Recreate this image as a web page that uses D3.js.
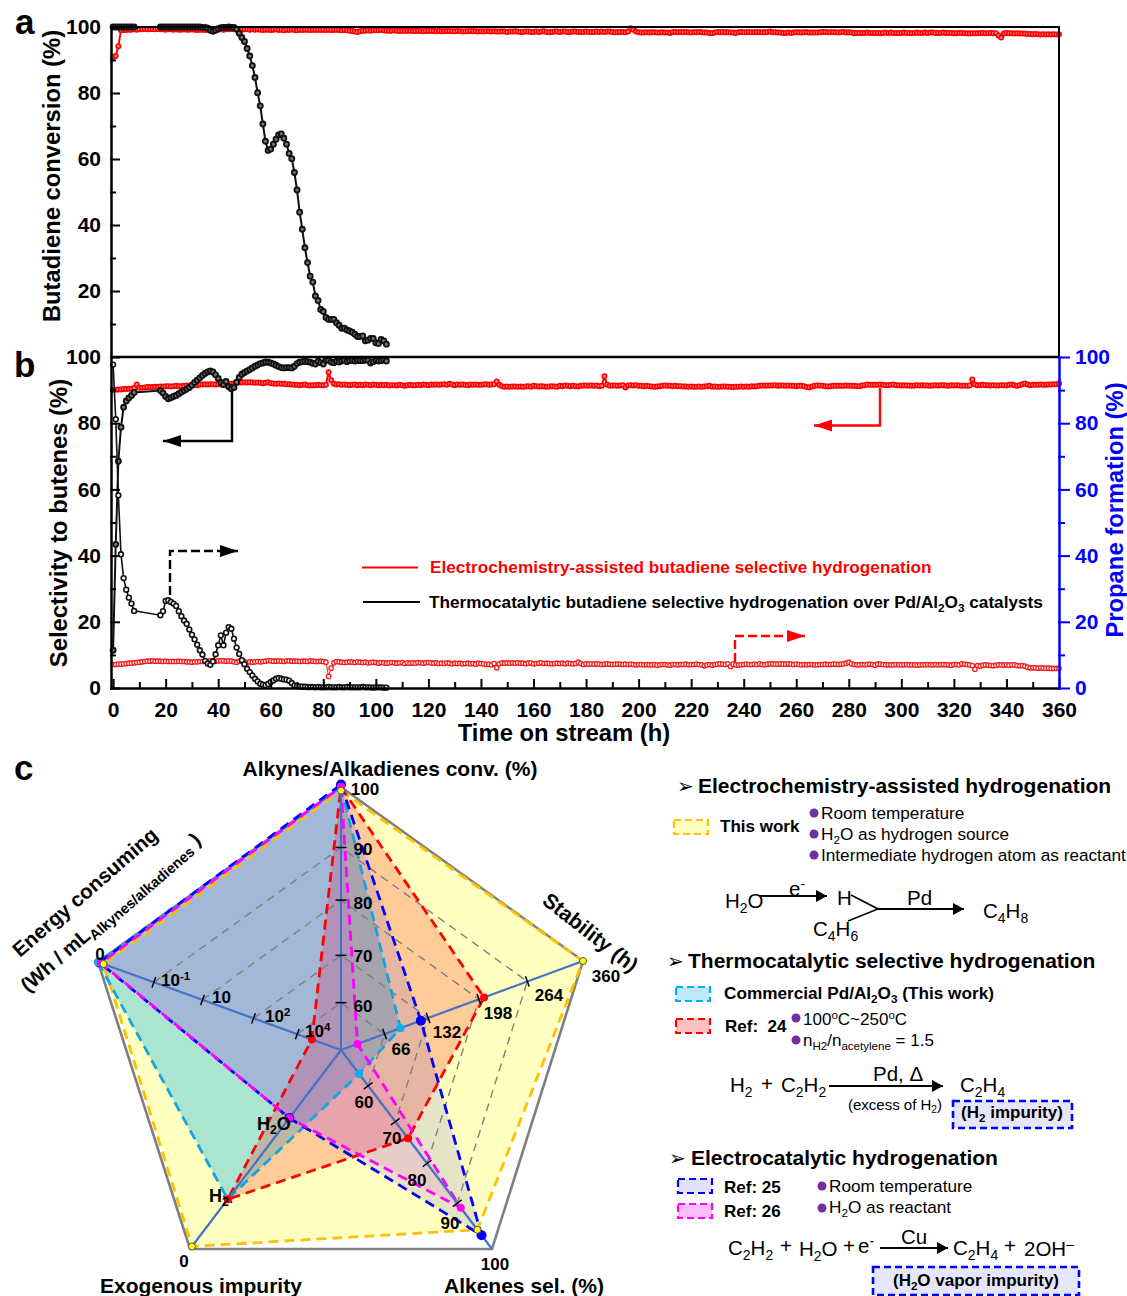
<!DOCTYPE html>
<html>
<head>
<meta charset="utf-8">
<title>Butadiene selective hydrogenation</title>
<script src="https://d3js.org/d3.v7.min.js"></script>
<style>
  html,body{margin:0;padding:0;background:#fff;}
  text{font-family:"Liberation Sans",Arial,sans-serif;fill:#000;}
</style>
</head>
<body>
<div id="chart"></div>
<script>
// hourly red series, index = hours on stream (0..360)
var redConversion=[
91.0,91.2,94.2,99.0,99.1,99.1,99.2,99.2,99.3,99.2,99.3,99.3,99.4,99.3,99.3,99.4,99.3,99.4,99.3,99.3,
99.2,99.3,99.3,99.2,99.3,99.2,99.2,99.3,99.2,99.2,99.3,99.2,99.1,99.2,99.2,99.1,99.2,99.2,99.1,99.2,
99.2,99.3,99.2,99.3,99.3,99.4,99.3,99.4,99.3,99.2,99.3,99.3,99.2,99.3,99.2,99.3,99.2,99.1,99.2,99.2,
99.1,99.2,99.3,99.1,99.2,99.0,99.2,99.1,99.3,99.1,99.0,99.2,99.1,99.2,99.2,99.1,99.2,99.1,99.2,99.1,
99.2,99.1,99.2,99.1,99.1,99.2,99.1,99.0,99.1,99.0,98.9,98.8,98.6,98.5,98.7,98.9,98.9,99.0,98.9,99.0,
99.0,99.0,99.1,99.0,98.9,98.9,98.9,99.0,98.9,98.8,98.9,98.9,98.8,98.9,98.8,98.8,98.9,98.8,98.7,98.8,
98.8,98.9,98.8,98.7,98.8,98.7,98.7,98.8,98.8,98.7,98.7,98.8,98.7,98.6,98.7,98.7,98.8,98.7,98.7,98.6,
98.7,98.6,98.7,98.7,98.6,98.7,98.6,98.6,98.7,98.6,98.5,98.6,98.6,98.7,98.6,98.5,98.5,98.6,98.6,98.5,
98.5,98.6,98.5,98.6,98.7,98.5,98.4,98.5,98.6,98.6,98.5,98.6,98.6,98.5,98.5,98.6,98.6,98.5,98.5,98.5,
98.6,98.5,98.5,98.5,98.6,98.5,98.6,98.5,98.6,98.6,98.5,98.4,98.4,98.5,98.5,98.4,98.6,99.6,99.2,98.6,
98.4,98.3,98.3,98.4,98.3,98.4,98.4,98.3,98.3,98.4,98.3,98.3,98.2,98.5,98.5,98.4,98.5,98.4,98.5,98.4,
98.3,98.4,98.4,98.5,98.4,98.3,98.3,98.2,98.2,98.3,98.5,98.4,98.5,98.4,98.4,98.3,98.3,98.2,98.4,98.5,
98.4,98.4,98.5,98.4,98.4,98.5,98.4,98.4,98.4,98.5,98.6,98.4,98.4,98.3,98.3,98.2,98.2,98.3,98.2,98.3,
98.4,98.4,98.3,98.4,98.4,98.3,98.3,98.3,98.3,98.4,98.5,98.5,98.4,98.4,98.4,98.4,98.3,98.4,98.5,98.3,
98.4,98.3,98.1,98.2,98.2,98.2,98.2,98.3,98.2,98.2,98.2,98.2,98.1,98.2,98.3,98.2,98.3,98.2,98.2,98.2,
98.2,98.3,98.2,98.2,98.2,98.2,98.3,98.2,98.2,98.3,98.2,98.3,98.3,98.2,98.2,98.2,98.3,98.2,98.2,98.2,
98.1,98.1,98.2,98.2,98.1,98.1,98.0,98.1,98.1,98.1,98.1,98.2,98.1,98.1,98.2,98.1,98.1,97.4,96.8,98.0,
98.2,98.1,98.1,98.0,98.1,98.0,98.0,98.0,97.9,97.9,97.8,97.9,97.8,97.7,97.8,97.7,97.8,97.7,97.8,97.7,97.8];

var redSelectivity=[
90.0,90.1,90.2,90.2,90.3,90.3,90.4,90.4,90.6,91.7,90.7,90.7,90.8,90.9,90.9,90.9,91.0,91.0,91.1,91.0,
91.2,91.2,91.1,91.2,91.3,91.2,91.2,91.3,91.4,91.3,91.5,91.6,91.5,91.7,91.7,91.8,91.7,91.8,91.8,91.7,
91.8,91.7,91.6,91.7,91.8,91.9,92.0,92.2,92.3,92.3,92.4,92.3,92.4,92.3,92.2,92.3,92.2,92.1,92.2,92.4,
92.1,92.0,91.9,92.0,91.9,91.9,91.8,91.8,91.7,91.6,91.6,91.5,91.6,91.7,91.5,91.4,91.5,91.5,91.6,91.5,
91.5,91.6,95.4,93.0,91.9,91.7,91.8,91.6,91.7,91.6,91.5,91.6,91.7,91.5,91.6,91.5,91.7,91.6,91.5,91.7,
91.6,91.5,91.6,91.5,91.6,91.4,91.5,91.5,91.4,91.6,91.5,91.3,91.5,91.6,91.5,91.5,91.6,91.5,91.7,91.6,
91.5,91.7,91.6,91.7,91.6,91.7,91.8,91.6,91.9,91.7,91.5,91.7,91.6,91.7,91.6,91.5,91.7,91.6,91.7,91.6,
91.6,91.7,91.8,91.6,91.7,91.8,92.6,91.6,91.2,91.0,91.1,91.0,91.1,91.1,91.0,91.1,91.0,91.1,91.2,91.0,
91.3,91.2,91.1,91.2,91.1,91.0,91.1,91.2,91.1,91.0,91.3,91.2,91.4,91.3,91.2,91.3,91.2,91.1,91.3,91.4,
91.4,91.3,91.4,91.3,91.4,91.2,91.3,94.2,91.7,91.3,91.4,91.4,91.3,91.4,91.5,90.8,91.4,91.5,91.4,91.5,
91.3,91.3,91.2,91.3,91.2,91.1,91.0,91.1,91.2,91.3,91.4,91.3,91.3,91.2,91.3,91.2,91.2,91.1,91.1,91.0,
91.1,91.0,91.0,91.1,91.0,91.1,91.2,91.3,91.0,91.1,91.0,91.0,91.1,91.1,91.0,91.0,90.9,91.0,91.0,91.1,
91.0,91.1,91.0,91.2,91.1,91.2,91.3,91.4,91.3,91.4,91.4,91.4,91.5,91.3,91.4,91.4,91.3,91.4,91.3,91.3,
91.2,91.3,91.3,91.2,90.9,90.8,91.1,91.3,91.4,91.4,91.3,91.2,91.1,91.2,91.3,91.3,91.3,91.3,91.3,91.4,
91.3,91.3,91.3,91.2,91.2,91.4,91.5,91.7,91.6,91.6,91.6,91.6,91.7,91.6,91.5,91.5,91.6,91.7,91.5,91.5,
91.4,91.5,91.4,91.4,91.3,91.4,91.5,91.4,91.5,91.4,91.4,91.3,91.4,91.5,91.4,91.5,91.5,91.4,91.3,91.5,
91.4,91.5,91.4,91.3,91.4,91.3,91.4,93.2,91.7,91.5,91.5,91.6,91.5,91.5,91.4,91.5,91.4,91.4,91.5,91.5,
91.4,91.6,91.7,91.5,91.3,91.5,91.8,92.0,91.7,91.5,91.6,91.6,91.6,91.7,91.6,91.6,91.7,91.7,91.8,91.8,92.0];

var redPropane=[
7.1,7.1,7.2,7.2,7.3,7.4,7.5,7.5,7.6,7.7,7.8,7.9,8.0,8.1,8.1,8.2,8.1,8.1,8.1,8.0,
8.1,8.0,8.0,8.0,8.0,8.1,8.0,8.0,7.9,7.9,7.8,7.9,7.9,8.0,8.0,8.1,8.1,8.2,8.2,8.1,
8.2,8.2,8.2,8.1,8.2,8.1,7.9,7.8,8.1,8.2,8.0,7.7,7.9,7.8,7.9,8.0,7.9,8.0,8.1,8.3,
8.2,8.1,8.1,8.2,8.1,8.0,8.2,8.2,8.1,8.1,8.1,8.0,8.1,8.1,8.0,8.2,8.1,8.0,8.0,8.1,
8.0,7.8,3.5,6.0,7.6,8.0,7.9,7.8,7.7,7.8,7.9,7.8,7.7,7.9,7.8,7.7,7.8,7.6,7.7,7.8,
7.7,7.5,7.7,7.6,7.5,7.6,7.7,7.6,7.5,7.6,7.7,7.4,7.6,7.5,7.6,7.5,7.7,7.6,7.5,7.6,
7.7,7.6,7.5,7.6,7.4,7.5,7.4,7.6,7.5,7.3,7.5,7.4,7.5,7.3,7.4,7.5,7.3,7.4,7.2,7.5,
7.4,7.3,7.1,7.2,7.0,7.4,6.1,7.3,7.6,7.5,7.6,7.5,7.6,7.5,7.6,7.5,7.5,7.3,7.5,7.6,
7.3,7.4,7.5,7.6,7.4,7.5,7.4,7.3,7.4,7.5,7.4,7.5,7.3,7.5,7.4,7.3,7.4,7.8,7.4,7.1,
7.3,7.2,7.3,7.2,7.3,7.2,7.1,7.2,7.3,7.2,7.1,7.2,7.2,7.2,7.1,7.2,7.1,7.2,7.1,7.0,
7.1,7.1,7.0,7.1,7.0,7.0,7.1,6.9,7.0,7.1,7.1,7.0,6.9,7.1,7.1,7.0,7.1,7.1,7.2,7.0,
7.1,7.1,7.2,7.1,7.0,6.7,7.0,7.1,6.9,7.1,7.2,7.3,7.2,7.1,7.3,6.5,7.2,7.0,6.9,7.0,
7.1,7.2,7.1,7.1,7.2,7.1,7.3,7.1,7.0,7.2,7.3,7.3,7.2,7.2,7.3,7.2,7.2,7.3,7.2,7.1,
7.2,7.1,7.0,7.1,7.0,7.1,7.1,7.0,7.0,7.1,7.1,7.2,7.1,7.1,7.2,7.2,7.1,7.2,7.3,7.5,
7.8,7.3,7.1,7.0,7.0,7.1,7.0,7.1,7.2,7.1,6.9,7.2,7.2,7.1,7.0,7.0,7.0,7.0,7.1,7.0,
7.0,7.0,7.1,7.0,7.0,7.0,6.9,7.0,7.0,7.0,7.1,7.0,7.0,7.1,7.0,7.0,7.1,7.0,7.0,6.9,
7.1,7.1,7.0,7.3,7.2,7.1,7.0,6.8,5.7,6.8,6.6,6.9,7.0,6.9,6.8,6.7,6.9,7.0,7.0,6.9,
7.0,6.9,7.0,7.0,6.8,6.7,6.8,6.6,6.3,6.1,6.1,6.1,6.0,6.1,6.0,6.0,6.0,5.9,5.9,5.9,5.9];

// black series: no samples between 8 h and 18 h
var blackHours=[0,1,2,3,4,5,6,7,8,
18,19,20,21,22,23,24,25,26,27,28,29,30,31,32,33,34,35,36,37,38,39,40,41,42,43,44,45,46,47,
48,49,50,51,52,53,54,55,56,57,58,59,60,61,62,63,64,65,66,67,68,69,70,71,72,73,74,75,76,
77,78,79,80,81,82,83,84,85,86,87,88,89,90,91,92,93,94,95,96,97,98,99,100,101,102,103,104];
var blackConversion=[100,100,100,100,100,100,100,100,100,
100,100,100,100,100,100,100,100,100,100,100,100,100,100,100,100,
99.9,99.9,99.6,99.0,98.7,99.0,99.5,99.8,99.9,99.9,100,99.9,99.9,99.3,
98.1,96.8,95.6,93.5,91.2,88.3,84.7,80.1,76.1,70.6,65.4,62.6,63,64.5,66,67.3,67.6,66.3,64.5,61.7,60.1,55.9,50.6,43.9,38.7,33.1,28.6,24.5,22.7,18.5,
17.1,14.4,13.8,12,11.4,11.4,11.4,10.4,9.6,8.7,8.7,8.2,7.9,7.5,6.9,6.2,6.2,6.4,4.9,5.1,5.6,5.6,4.3,4.1,5.3,4.9,3.9];
var blackSelectivity=[11.4,43.4,68.5,78.8,84.8,86.7,87.6,88.4,89.3,
89.9,89.1,88.1,87.4,87.7,88.1,88.4,88.9,89.4,89.9,90.3,90.8,91.5,92.3,93,93.7,94.4,95,95.5,95.8,95.5,94.6,93.5,92.3,91.7,92.6,91,90.4,90.8,92.4,
93.8,94.8,95.3,95.8,96.2,96.7,97.2,97.6,98,98.2,98.5,98.4,98.2,97.9,97.5,97.1,96.8,96.7,96.8,96.8,96.7,97.2,98,98.4,98.6,98.7,98.6,98.4,98.1,
97.9,98.7,98.3,97.9,99,99,98.5,98.3,98.7,98.5,98.8,98.9,98.6,98.9,99,98.8,99,98.9,98.9,99.1,99,98.2,98.6,99,98.8,98.9,99.1,98.8];
var blackPropane=[97.7,81.2,58.2,40.4,33.2,29.7,27.3,25.5,23.3,
22,23.2,26.3,26.5,26,25.5,24.8,23.2,21.7,20.4,19.4,17.7,16.1,14.7,13.1,11.4,10.1,8.2,7.4,7,8,10.2,12.9,15.9,12.9,16.7,18.4,17.9,14.9,12.2,
10.3,8.4,7.2,5.8,4.8,3.8,2.8,2,1.3,1,0.8,1.2,1.8,2.3,2.8,3,2.8,2.6,2.5,2.2,1.5,0.8,0.6,0.5,0.4,0.4,0.3,0.3,0.3,
0.2,0.3,0.2,0.2,0.2,0.3,0.2,0.2,0.2,0.3,0.2,0.2,0.3,0.2,0.2,0.2,0.2,0.2,0.3,0.2,0.2,0.2,0.1,0.2,0.2,0.2,0.1,0.1];

// radar axes, tick labels and their share of the spoke length
var levelShare=[0.18,0.36,0.57,0.77];
var convTicks=[60,70,80,90];
var stabilityTicks=[66,132,198,264];
var selTicks=[60,70,80,90];
var energyTicks=[4,2,1,-1];   // log10 of Wh/mL
var impurityLevels=["H2O","H2","none"];

// radar series
var seriesNames=["This work","Pd/Al2O3","Ref 24","Ref 25","Ref 26"];
var seriesConv=[99.4,100,100,100.4,100];
var seriesStability=[360,90,205,121,25];
var seriesSel=[95.8,57,74,97,91];
var seriesImpurity=["none","H2","H2","H2O","H2O"];
var seriesEnergy=[-2.8,-3,4.5,-2.95,-2.9];
var seriesColor=["#FFC000","#00B0F0","#FF0000","#0000FF","#FF00FF"];
var seriesAlpha=[0.25,0.33,0.2,0.1,0.1];
var dotColor=["#FFFF00","#00B0F0","#FF0000","#0000FF","#FF00FF"];

var width=1127,height=1296;
var svg=d3.select("#chart").append("svg").attr("width",width).attr("height",height).style("display","block");

var defs=svg.append("defs");
[["arrBlack","#000"],["arrRed","#FF0000"]].forEach(function(m){
  defs.append("marker").attr("id",m[0]).attr("markerUnits","userSpaceOnUse")
    .attr("viewBox","0 0 18 12").attr("refX",18).attr("refY",6)
    .attr("markerWidth",18).attr("markerHeight",12).attr("orient","auto")
    .append("path").attr("d","M0,0L18,6L0,12Z").attr("fill",m[1]);
});

// text with _sub_ and ^sup^ pieces
function rich(g,str,x,y,size,opt){
  opt=opt||{};
  var t=g.append("text").attr("x",x).attr("y",y).style("font-size",size+"px")
    .style("font-weight",opt.bold?"bold":"normal").attr("text-anchor",opt.anchor||"start");
  if(opt.color) t.style("fill",opt.color);
  if(opt.rotate!==undefined) t.attr("transform","rotate("+opt.rotate+" "+x+" "+y+")");
  var parts=str.split(/(_[^_]*_|\^[^\^]*\^)/),shift=0;
  parts.forEach(function(p){
    if(!p) return;
    var kind=p[0],small=size*0.68,dy=0,txt=p,fs=size;
    if(kind==="_"&&p.length>2){dy=size*0.22;txt=p.slice(1,-1);fs=opt.subSize||small;}
    else if(kind==="^"&&p.length>2){dy=-size*0.36;txt=p.slice(1,-1);fs=small;}
    var ts=t.append("tspan").text(txt).style("font-size",fs+"px");
    if(dy-shift!==0) ts.attr("dy",dy-shift);
    shift=dy;
  });
  return t;
}

// ---- panels a and b
var x=d3.scaleLinear().domain([-0.8,360]).range([111,1059]);
var yA=d3.scaleLinear().domain([0,100]).range([357,27]);
var yB=d3.scaleLinear().domain([0,100]).range([688,357]);

function drawSeries(g,xs,ys,yScale,stroke,fill,r,lineW,sw){
  var pts=ys.map(function(v,i){return [x(xs[i]),yScale(v)];});
  g.append("path").attr("d",d3.line()(pts)).attr("fill","none").attr("stroke",stroke).attr("stroke-width",lineW);
  g.append("g").selectAll("circle").data(pts).enter().append("circle")
    .attr("cx",function(d){return d[0]}).attr("cy",function(d){return d[1]})
    .attr("r",r).attr("fill",fill).attr("stroke",stroke).attr("stroke-width",sw);
}
var redHours=d3.range(0,361);
var plots=svg.append("g");
drawSeries(plots,redHours,redConversion,yA,"#FF0000","#FF8A8A",2.2,2,1.6);
drawSeries(plots,redHours,redSelectivity,yB,"#FF0000","#FF8A8A",2.2,2,1.6);
drawSeries(plots,redHours,redPropane,yB,"#F51C1C","#fff",2.2,1,1.3);
drawSeries(plots,blackHours,blackConversion,yA,"#111","#777",2.5,2,1.9);
drawSeries(plots,blackHours,blackSelectivity,yB,"#111","#777",2.5,2,1.9);
drawSeries(plots,blackHours,blackPropane,yB,"#111","#fff",2.4,1.6,1.6);

function styleAxis(g,color){
  g.selectAll("path,line").attr("stroke",color).attr("stroke-width",2).attr("stroke-linecap","square");
  g.selectAll("text").style("font-size","21px").style("font-weight","bold").style("fill",color)
   .style("font-family","'Liberation Sans',Arial,sans-serif");
}
function ticksLeft(scale,tr,labels){
  var gMin=svg.append("g").attr("transform",tr).call(d3.axisLeft(scale).tickValues(d3.range(10,100,20)).tickSize(-4).tickSizeOuter(0).tickFormat(""));
  styleAxis(gMin,"#000");
  var gMaj=svg.append("g").attr("transform",tr).call(d3.axisLeft(scale).tickValues(labels).tickSize(-8).tickSizeOuter(0).tickPadding(10));
  styleAxis(gMaj,"#000");
}
ticksLeft(yA,"translate(111,0)",[20,40,60,80,100]);
ticksLeft(yB,"translate(111,0)",[0,20,40,60,80,100]);

// bottom x axis
var gxMin=svg.append("g").attr("transform","translate(0,688)").call(d3.axisBottom(x).tickValues(d3.range(10,360,20)).tickSize(-5).tickSizeOuter(0).tickFormat(""));
styleAxis(gxMin,"#000");
var gxMaj=svg.append("g").attr("transform","translate(0,688)").call(d3.axisBottom(x).tickValues(d3.range(0,361,20)).tickSize(-8).tickSizeOuter(0).tickPadding(14));
styleAxis(gxMaj,"#000");
gxMaj.selectAll("text").attr("y",14);

// frame lines of panel a and shared divider
svg.append("path").attr("d","M111,27H1059V357").attr("fill","none").attr("stroke","#000").attr("stroke-width",2);
svg.append("line").attr("x1",111).attr("x2",1059).attr("y1",357).attr("y2",357).attr("stroke","#000").attr("stroke-width",2.5);

// right blue axis
var gMinR=svg.append("g").attr("transform","translate(1059,0)").call(d3.axisRight(yB).tickValues(d3.range(10,100,20)).tickSize(5).tickSizeOuter(0).tickFormat(""));
styleAxis(gMinR,"#0000FF");
var gMajR=svg.append("g").attr("transform","translate(1059,0)").call(d3.axisRight(yB).tickValues(d3.range(0,101,20)).tickSize(10).tickSizeOuter(0).tickPadding(6));
styleAxis(gMajR,"#0000FF");

// axis titles
rich(svg,"Butadiene conversion (%)",60,176,23.8,{bold:true,anchor:"middle",rotate:-90});
rich(svg,"Selectivity to butenes (%)",67,523,23.8,{bold:true,anchor:"middle",rotate:-90});
rich(svg,"Propane formation (%)",1123,510,23.8,{bold:true,anchor:"middle",rotate:-90,color:"#0000FF"});
rich(svg,"Time on stream (h)",564,741,23.8,{bold:true,anchor:"middle"});
rich(svg,"a",15,34,35,{bold:true});
rich(svg,"b",14,377,35,{bold:true});
rich(svg,"c",14,780,35,{bold:true});

// direction arrows in panel b
function arrow(pathD,color,marker,dash){
  var p=svg.append("path").attr("d",pathD).attr("fill","none").attr("stroke",color).attr("stroke-width",2.4).attr("marker-end","url(#"+marker+")");
  if(dash) p.attr("stroke-dasharray",dash);
}
arrow("M232,392V441H163","#000","arrBlack");
arrow("M170,595V551H238","#000","arrBlack","9,4");
arrow("M880,388V425.5H814","#FF0000","arrRed");
arrow("M735,662V636H805","#FF0000","arrRed","9,4");

// legend of panels a and b
svg.append("line").attr("x1",362).attr("x2",418).attr("y1",567.5).attr("y2",567.5).attr("stroke","#FF0000").attr("stroke-width",2.2);
svg.append("line").attr("x1",363).attr("x2",420).attr("y1",602).attr("y2",602).attr("stroke","#000").attr("stroke-width",2.2);
rich(svg,"Electrochemistry-assisted butadiene selective hydrogenation",430,573,17.2,{bold:true,color:"#FF0000"});
rich(svg,"Thermocatalytic butadiene selective hydrogenation over Pd/Al_2_O_3_ catalysts",429,608,17.2,{bold:true});

// ---- panel c radar
var hub=[341,1050];
// spoke ends measured from the hub: conv, stability, sel, impurity, energy
var spokeEnds=[[0,-263],[242,-89],[151,199],[-151,199],[-243,-88]];
var shareConv=d3.scaleLinear().domain([51,60,70,80,90,100]).range([0,levelShare[0],levelShare[1],levelShare[2],levelShare[3],1]);
var shareStab=d3.scaleLinear().domain([0,66,132,198,264,360]).range([0,levelShare[0],levelShare[1],levelShare[2],levelShare[3],1]);
var shareEnergy=d3.scaleLinear().domain([5.5,4,2,1,-1,-3]).range([0,levelShare[0],levelShare[1],levelShare[2],levelShare[3],1]);
var shareImpurity=d3.scaleOrdinal().domain(impurityLevels).range([0.342,0.75,0.987]);

function radial(axis,share){
  return [hub[0]+spokeEnds[axis][0]*share,hub[1]+spokeEnds[axis][1]*share];
}
var seriesPts=seriesNames.map(function(n,i){
  return [radial(0,shareConv(seriesConv[i])),radial(1,shareStab(seriesStability[i])),radial(2,shareConv(seriesSel[i])),
          radial(3,shareImpurity(seriesImpurity[i])),radial(4,shareEnergy(seriesEnergy[i]))];
});
var radar=svg.append("g");
var lineClosed=d3.line().curve(d3.curveLinearClosed);

// outer frame
radar.append("path").attr("d",lineClosed(d3.range(5).map(function(a){return radial(a,1)})))
  .attr("fill","none").attr("stroke","#7f7f7f").attr("stroke-width",2.6);
// fills
seriesNames.forEach(function(n,i){
  radar.append("path").attr("d",lineClosed(seriesPts[i])).attr("fill",seriesColor[i]==="#FFC000"?"#FFFF00":seriesColor[i]).attr("fill-opacity",seriesAlpha[i]);
});
// inner dashed levels: only between energy, conv, stability and sel spokes
levelShare.forEach(function(s){
  radar.append("path").attr("d",d3.line()([radial(4,s),radial(0,s),radial(1,s),radial(2,s)]))
    .attr("fill","none").attr("stroke","#7f7f7f").attr("stroke-width",1.4).attr("stroke-dasharray","8,6");
});
// series outlines
seriesNames.forEach(function(n,i){
  radar.append("path").attr("d",lineClosed(seriesPts[i])).attr("fill","none").attr("stroke",seriesColor[i]==="#00B0F0"?"#14A5E0":seriesColor[i])
    .attr("stroke-width",2.8).attr("stroke-dasharray","10,6");
});
// spokes
d3.range(5).forEach(function(a){
  var e=radial(a,1);
  radar.append("line").attr("x1",hub[0]).attr("y1",hub[1]).attr("x2",e[0]).attr("y2",e[1]).attr("stroke","#4472C4").attr("stroke-width",2.2);
});
// tick marks across the spokes
function tickMark(a,s){
  var p=radial(a,s),e=spokeEnds[a],L=Math.sqrt(e[0]*e[0]+e[1]*e[1]),nx=-e[1]/L*5.5,ny=e[0]/L*5.5;
  radar.append("line").attr("x1",p[0]-nx).attr("y1",p[1]-ny).attr("x2",p[0]+nx).attr("y2",p[1]+ny).attr("stroke","#000").attr("stroke-width",1.5);
}
convTicks.forEach(function(v){tickMark(0,shareConv(v));});
stabilityTicks.forEach(function(v){tickMark(1,shareStab(v));});
selTicks.forEach(function(v){tickMark(2,shareConv(v));});
energyTicks.forEach(function(v){tickMark(4,shareEnergy(v));});
tickMark(3,shareImpurity("H2O"));tickMark(3,shareImpurity("H2"));
// dots, largest at the back
var dotOrder=[3,1,2,4,0],dotR=[3.5,4,4,5,4];
dotOrder.forEach(function(i){
  radar.append("g").selectAll("circle").data(seriesPts[i]).enter().append("circle")
    .attr("cx",function(d){return d[0]}).attr("cy",function(d){return d[1]}).attr("r",dotR[i])
    .attr("fill",dotColor[i]).attr("stroke",i===0?"#555":"none").attr("stroke-width",i===0?1:0);
});

// radar tick labels
var radarLabels=[["100",365,795],["90",363,855],["80",363,909],["70",363,962],["60",363,1012],
  ["66",401,1055],["132",447,1038],["198",498,1019],["264",549,1001],["360",606,982],
  ["60",364,1108],["70",392,1144],["80",417,1186],["90",450,1229],["100",495,1270],
  ["0",100,960],["0",184,1267]];
radarLabels.forEach(function(l){rich(svg,l[0],l[1],l[2],17,{bold:true,anchor:"middle"});});
rich(svg,"10^-1^",161,986,17,{bold:true});
rich(svg,"10",212,1003,17,{bold:true});
rich(svg,"10^2^",265,1022,17,{bold:true});
rich(svg,"10^4^",305,1037,17,{bold:true});
rich(svg,"H_2_O",257,1130,18,{bold:true});
rich(svg,"H_2_",209,1202,18,{bold:true});

// radar axis titles
rich(svg,"Alkynes/Alkadienes conv. (%)",390,776,21,{bold:true,anchor:"middle"});
rich(svg,"Stability (h)",541,903,21,{bold:true,rotate:38});
rich(svg,"Alkenes sel. (%)",444,1293,21,{bold:true});
rich(svg,"Exogenous impurity",100,1293,21,{bold:true});
rich(svg,"Energy consuming",20,958,20.5,{bold:true,rotate:-41});
rich(svg,"(Wh / mL_Alkynes/alkadienes_ )",28,993,20,{bold:true,rotate:-41,subSize:14.5});

// ---- panel c key
var key=svg.append("g");
function heading(gx,gy,tx,str){
  key.append("text").attr("x",gx).attr("y",gy).style("font-family","'DejaVu Sans'").style("font-size","20px").text("\u27A2");
  rich(key,str,tx,gy,21,{bold:true});
}
function swatch(x0,y0,w,h,stroke,fill,sw){
  key.append("rect").attr("x",x0).attr("y",y0).attr("width",w).attr("height",h).attr("fill",fill)
    .attr("stroke",stroke).attr("stroke-width",sw||2.2).attr("stroke-dasharray","7,4");
}
function bullet(cx,cy){key.append("circle").attr("cx",cx).attr("cy",cy).attr("r",4.5).attr("fill","#7030A0");}
function rxnArrow(x1,x2,y0){
  key.append("line").attr("x1",x1).attr("x2",x2).attr("y1",y0).attr("y2",y0).attr("stroke","#000").attr("stroke-width",1.8).attr("marker-end","url(#arrSmall)");
}
defs.append("marker").attr("id","arrSmall").attr("markerUnits","userSpaceOnUse").attr("viewBox","0 0 11 12")
  .attr("refX",11).attr("refY",6).attr("markerWidth",11).attr("markerHeight",12).attr("orient","auto")
  .append("path").attr("d","M0,0L11,6L0,12Z").attr("fill","#000");

heading(677,793,698,"Electrochemistry-assisted hydrogenation");
swatch(674,820,34,14,"#FFC000","#FFFFC0");
rich(key,"This work",720,832,17,{bold:true});
bullet(814,813);bullet(814,834);bullet(814,855);
rich(key,"Room temperature",821,819,17.2);
rich(key,"H_2_O as hydrogen source",821,840,17.2);
rich(key,"Intermediate hydrogen atom as reactant",821,861,17.2);

rich(key,"H_2_O",725,908,20.5);
rxnArrow(760,827,896);
rich(key,"e^-^",789,896,20.5);
rich(key,"H",837,905,20.5);
key.append("path").attr("d","M851,895L878,909L848,921").attr("fill","none").attr("stroke","#000").attr("stroke-width",1.6);
rxnArrow(878,964,909);
rich(key,"Pd",907,905,20.5);
rich(key,"C_4_H_8_",983,918,20.5);
rich(key,"C_4_H_6_",813,936,20.5);

heading(667,968,688,"Thermocatalytic selective hydrogenation");
swatch(676,987,34,14,"#00B0F0","#BDE9FB");
rich(key,"Commercial Pd/Al_2_O_3_ (This work)",724,999,17.2,{bold:true});
swatch(676,1019,34,14,"#FF0000","#FFC0C0");
rich(key,"Ref:\u00A0 24",725,1032,17,{bold:true});
bullet(796,1018);bullet(796,1040);
rich(key,"100^o^C~250^o^C",803,1025,17);
rich(key,"n_H2_/n_acetylene_ = 1.5",803,1046,17);

rich(key,"H_2_",730,1092,20.5);
rich(key,"+",761,1091,20.5);
rich(key,"C_2_H_2_",781,1092,20.5);
rxnArrow(829,943,1086);
rich(key,"Pd, \u0394",873,1081,20.5);
rich(key,"(excess of H_2_)",848,1110,15);
rich(key,"C_2_H_4_",960,1092,20.5);
swatch(953,1101,119,27,"#0000FF","#E6E6FA",2.6);
rich(key,"(H_2_ impurity)",1012,1118,17,{bold:true,anchor:"middle"});

heading(669,1165,691,"Electrocatalytic hydrogenation");
swatch(678,1179,34,14,"#0000FF","#E0E0FF");
rich(key,"Ref: 25",724,1193,17,{bold:true});
swatch(678,1204,34,14,"#FF00FF","#FFBBFF");
rich(key,"Ref: 26",724,1217,17,{bold:true});
bullet(822,1186);bullet(822,1208);
rich(key,"Room temperature",829,1192,17.2);
rich(key,"H_2_O as reactant",829,1213,17.2);

rich(key,"C_2_H_2_",728,1255,20.5);
rich(key,"+",780,1253,20.5);
rich(key,"H_2_O",799,1256,20.5);
rich(key,"+",843,1253,20.5);
rich(key,"e^-^",858,1253,20.5);
rxnArrow(880,948,1248);
rich(key,"Cu",901,1244,20.5);
rich(key,"C_2_H_4_",953,1255,20.5);
rich(key,"+",1004,1253,20.5);
rich(key,"2OH^\u2013^",1024,1256,20.5);
swatch(873,1267,206,28,"#0000FF","#E6E6FA",2.6);
rich(key,"(H_2_O vapor impurity)",976,1286,17,{bold:true,anchor:"middle"});
</script>
</body>
</html>
